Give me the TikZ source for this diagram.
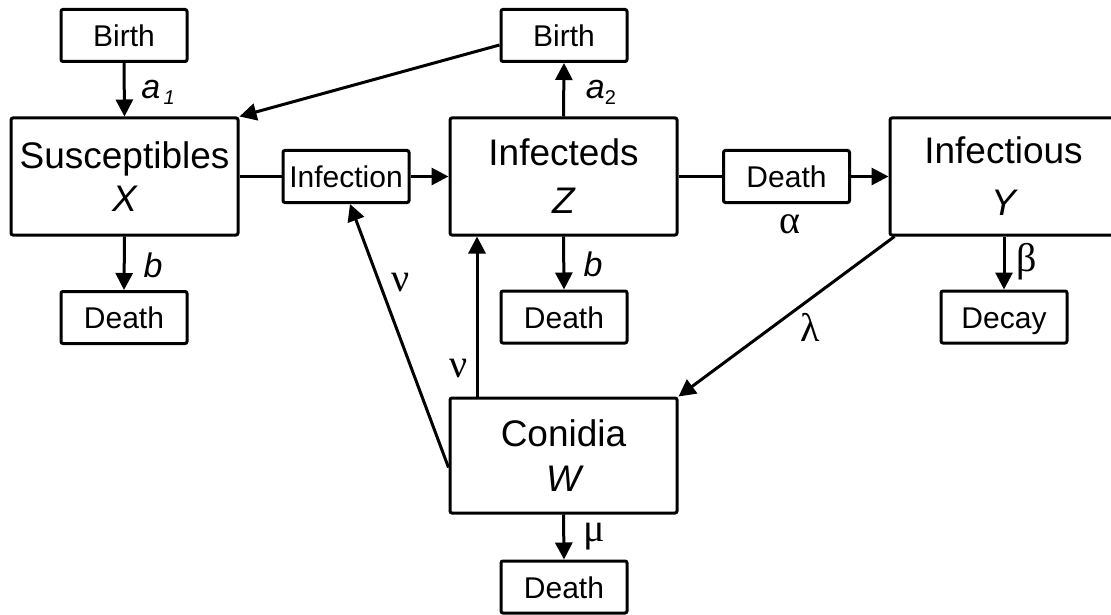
\documentclass[tikz,border=0pt]{standalone}
\usepackage{fontspec}
\setmainfont{Liberation Sans}
\newfontfamily\grk{Liberation Serif}
\usetikzlibrary{arrows.meta}
\tikzset{
  every picture/.style={line width=3pt},
  small/.style={draw, rectangle, rounded corners=2pt, minimum width=126pt, minimum height=52pt, inner sep=0pt, text height=22pt, text depth=0pt, font=\fontsize{30}{36}\selectfont},
  big/.style={draw, rectangle, rounded corners=2pt, minimum width=227pt, minimum height=117pt, inner sep=0pt, align=center},
  arr/.style={-{Triangle[length=17pt,width=17pt]}},
  lab/.style={inner sep=0pt, font=\fontsize{34}{36}\selectfont\itshape},
  glab/.style={inner sep=0pt, font=\fontsize{40}{40}\selectfont\grk},
}
\begin{document}
\begin{tikzpicture}[x=1pt,y=-1pt]
\useasboundingbox[fill=white] (0,0) rectangle (1111,615);
% boxes
\node[small] (b1) at (124,35.5) {Birth};
\node[small] (d1) at (124,317.5) {Death};
\node[small] (inf) at (346,176.5) {Infection};
\node[small] (b2) at (564,35.5) {Birth};
\node[small] (d2) at (564,317) {Death};
\node[small] (dm) at (786.5,176.5) {Death};
\node[small] (dec) at (1004,317) {Decay};
\node[small] (d3) at (564,587) {Death};
\node[big, font=\fontsize{37}{43}\selectfont] (X) at (124.5,176.5) {Susceptibles\\\itshape X};
\node[big, font=\fontsize{37}{48}\selectfont] (Z) at (563.5,176.5) {Infecteds\\\itshape Z};
\node[big, font=\fontsize{37}{52}\selectfont] (Y) at (1003.5,176.5) {Infectious\\\itshape Y};
\node[big, minimum height=115pt, font=\fontsize{37}{45}\selectfont] (W) at (563.5,455.5) {Conidia\\\itshape W};
% connectors
\draw[arr] (b1.south) -- (X.north);
\draw[arr] ([yshift=-9.5pt]b2.west) -- (X.north east);
\draw (X.east) -- (inf.west);
\draw[arr] (inf.east) -- (Z.west);
\draw[arr] (Z.north) -- (b2.south);
\draw (Z.east) -- (dm.west);
\draw[arr] (dm.east) -- (Y.west);
\draw[arr] (X.south) -- (d1.north);
\draw[arr] (Z.south) -- (d2.north);
\draw[arr] ([xshift=0.5pt]Y.south) -- (dec.north);
\draw[arr] ([xshift=6pt]Y.south west) -- (W.north east);
\draw[arr] ([yshift=-12pt]W.west) -- ([xshift=4pt]inf.south);
\coordinate (wz) at ([xshift=-86.5pt]W.north);
\draw[arr] (wz) -- (wz |- Z.south);
\draw[arr] (W.south) -- (d3.north);
% labels
\node[lab] (la1) at (158,92) {a\raisebox{-6pt}{\fontsize{20}{20}\selectfont\,1}};
\node[lab] (la2) at (601,92) {a\raisebox{-6pt}{\fontsize{20}{20}\selectfont\upshape 2}};
\node[lab] (lb1) at (153,265) {b};
\node[lab] (lb2) at (593,264) {b};
\node[glab] (lal) at (790,224) {α};
\node[glab] (lbe) at (1027,262) {β};
\node[glab] (lla) at (810,327) {λ};
\node[glab] (lnu1) at (401,283) {ν};
\node[glab] (lnu2) at (459,369) {ν};
\node[glab] (lmu) at (594,537) {μ};
\end{tikzpicture}
\end{document}
